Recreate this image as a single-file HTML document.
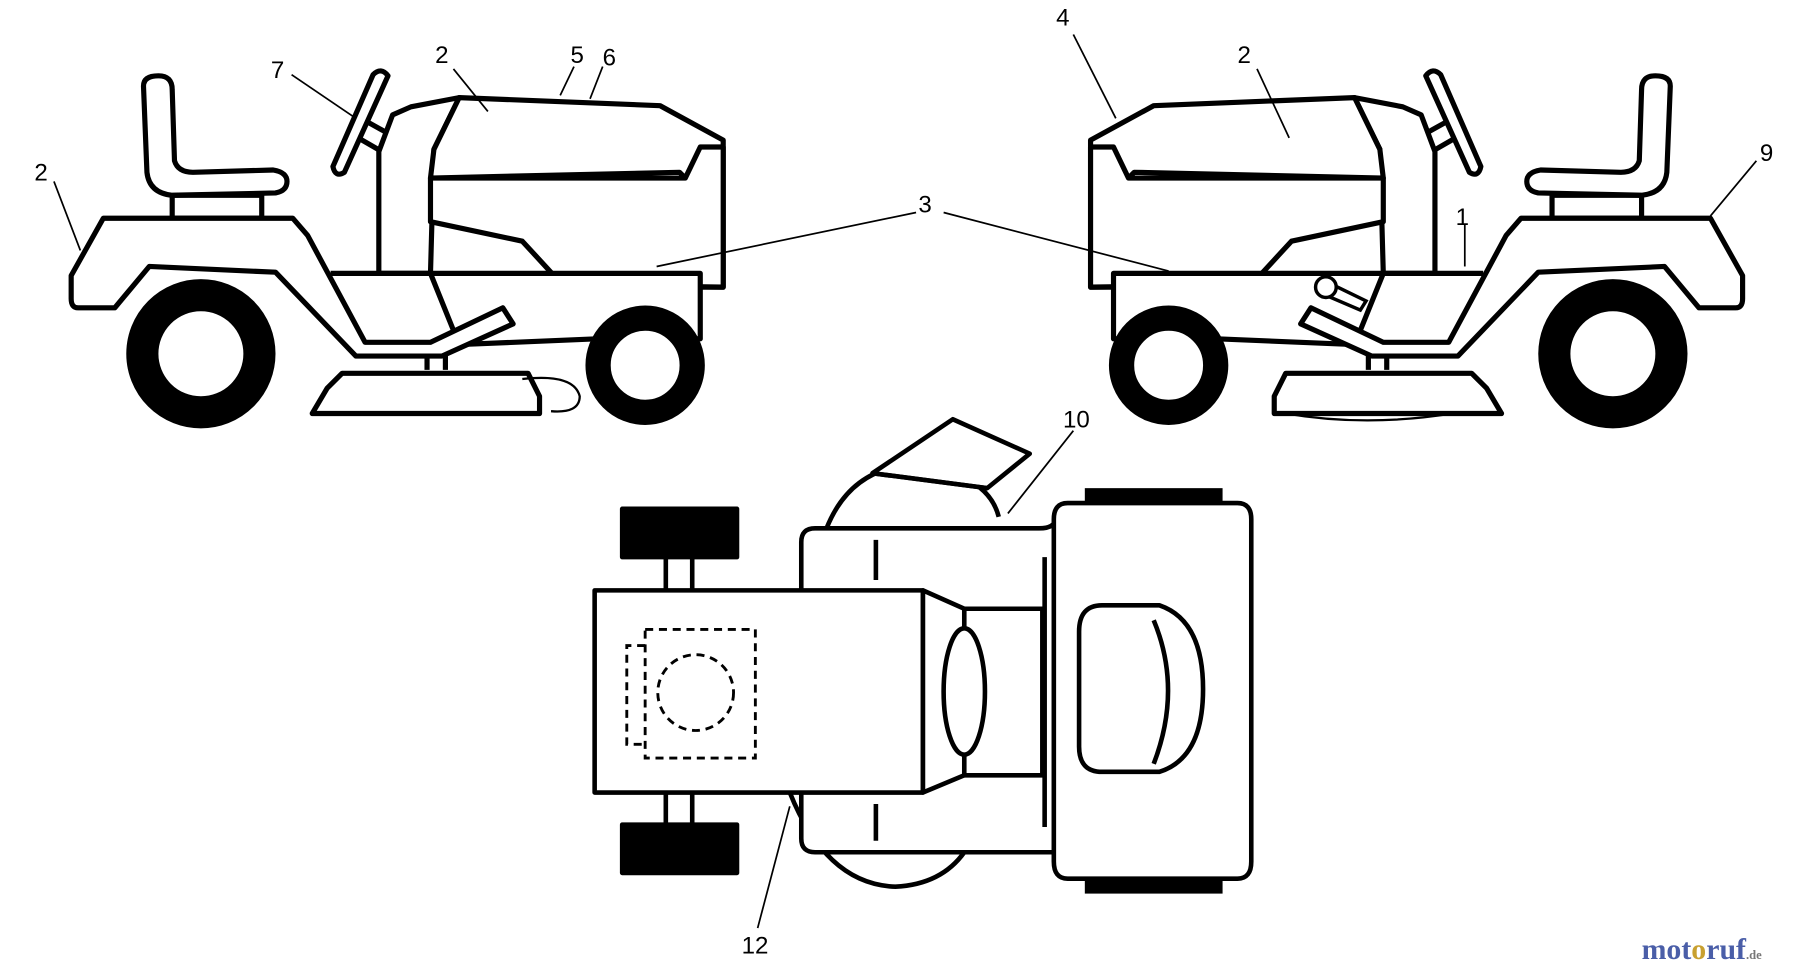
<!DOCTYPE html>
<html><head><meta charset="utf-8"><style>
html,body{margin:0;padding:0;background:#fff;}
svg{display:block}
text{font-family:"Liberation Sans",sans-serif;font-size:21px;fill:#000}
</style></head><body>
<svg width="1800" height="974" viewBox="0 0 1568 848" preserveAspectRatio="none" xmlns="http://www.w3.org/2000/svg">
<defs>
<g id="trac" fill="#fff" stroke="#000" stroke-width="4.5" stroke-linejoin="round">
  <path d="M150,190 V170 H228 V190 Z"/>
  <path d="M125,75 Q125,66 138,66 Q150,66 150,78 L152,140 Q155,150 168,150 L238,148 Q250,150 250,158 Q250,166 240,168 L150,170 Q130,168 128,150 Z"/>
  <path d="M318,105 L345,120 M312,120 L338,135" />
  <path d="M290,145 L325,65 Q332,58 338,66 L300,150 Q292,155 290,145 Z"/>
  <path d="M330,238 V132 L342,100 L358,93 L400,85 L378,130 L375,238 Z"/>
  <path d="M400,85 L575,92 L630,122 L630,250 L610,250 L610,155 L597,155 L592,150 L375,155 L378,130 Z"/>
  <path d="M375,155 L597,155 L610,128 L630,128 L630,250 L490,248 L455,210 L375,193 Z"/>
  <path d="M288,238 H610 V295 H520 L400,300 L375,238"/>
  <circle cx="562" cy="318" r="41" stroke-width="22"/>
  <path d="M62,240 L90,190 L255,190 L268,205 L318,298 L375,298 L438,268 L447,282 L385,310 L310,310 L240,237 L130,232 L100,268 L68,268 Q62,268 62,260 Z"/>
  <circle cx="175" cy="308" r="51" stroke-width="28"/>
  <path d="M372,310 V322 M388,308 V322"/>
  <path d="M285,338 L298,325 L460,325 L470,345 L470,360 L272,360 Z"/>
</g>
</defs>

<use href="#trac"/>
<use href="#trac" transform="translate(1580,0) scale(-1,1)"/>

<path d="M455,330 Q500,325 505,345 Q505,360 480,358" fill="none" stroke="#000" stroke-width="2"/>
<path d="M1155,245 L1190,262 L1185,270 L1150,255 Z" fill="#fff" stroke="#000" stroke-width="3"/>
<circle cx="1155" cy="250" r="9" fill="#fff" stroke="#000" stroke-width="3"/>
<path d="M1120,360 Q1190,372 1265,360" fill="none" stroke="#000" stroke-width="2"/>

<g stroke="#000" stroke-width="1.5" fill="none">
  <path d="M47,158 L70,218"/>
  <path d="M254,65 L310,103"/>
  <path d="M395,60 L425,97"/>
  <path d="M500,58 L488,83"/>
  <path d="M525,58 L514,86"/>
  <path d="M798,185 L572,232"/>
  <path d="M822,185 L1018,236"/>
  <path d="M935,30 L972,103"/>
  <path d="M1095,60 L1123,120"/>
  <path d="M1276,195 L1276,232"/>
  <path d="M1530,140 L1490,188"/>
  <path d="M935,375 L878,447"/>
  <path d="M660,808 L688,702"/>
</g>

<g>
  <text x="30" y="157">2</text>
  <text x="236" y="68">7</text>
  <text x="379" y="55">2</text>
  <text x="497" y="55">5</text>
  <text x="525" y="57">6</text>
  <text x="800" y="185">3</text>
  <text x="920" y="22">4</text>
  <text x="1078" y="55">2</text>
  <text x="1268" y="196">1</text>
  <text x="1533" y="140">9</text>
  <text x="926" y="372">10</text>
  <text x="646" y="830">12</text>
</g>

<g fill="#fff" stroke="#000" stroke-width="4" stroke-linejoin="round">
  <rect x="542" y="443" width="100" height="42" fill="#000"/>
  <rect x="542" y="718" width="100" height="42" fill="#000"/>
  <path d="M580,485 V515 M603,485 V515 M580,690 V718 M603,690 V718"/>
  <path d="M688,690 Q720,770 780,772 Q820,770 840,742" />
  <path d="M720,460 Q740,410 790,405 Q860,410 870,450"/>
  <path d="M760,412 L830,365 L897,395 L860,425 Z"/>
  <path d="M760,412 L860,425"/>
  <path d="M710,460 H905 Q920,460 920,450 V742 H710 Q698,742 698,730 V472 Q698,460 710,460 Z"/>
  <path d="M930,438 H1078 Q1090,438 1090,452 V750 Q1090,765 1078,765 H930 Q918,765 918,750 V452 Q918,438 930,438 Z"/>
  <rect x="945" y="425" width="120" height="13" fill="#000" stroke="none"/>
  <rect x="945" y="765" width="120" height="13" fill="#000" stroke="none"/>
  <path d="M910,485 V720 M763,470 V505 M763,700 V732"/>
  <rect x="518" y="514" width="286" height="176"/>
  <path d="M804,514 L840,530 L840,675 L804,690 Z"/>
  <rect x="840" y="530" width="68" height="145"/>
  <ellipse cx="840" cy="602" rx="18" ry="55"/>
  <path d="M960,527 H1010 Q1048,540 1048,600 Q1048,660 1010,672 H960 Q940,672 940,650 V550 Q940,527 960,527 Z"/>
  <path d="M1005,540 Q1030,600 1005,665" fill="none"/>
</g>
<g fill="none" stroke="#000" stroke-width="2.5" stroke-dasharray="7,5">
  <rect x="562" y="548" width="96" height="112"/>
  <circle cx="606" cy="603" r="33"/>
  <path d="M562,562 H546 V648 H562"/>
</g>

<text x="1430" y="835" style="font-family:'Liberation Serif',serif;font-size:26px;font-weight:bold"><tspan fill="#4a5ea8">mot</tspan><tspan fill="#c8a030">o</tspan><tspan fill="#4a5ea8">ruf</tspan><tspan fill="#777" font-size="11">.de</tspan></text>
</svg>
</body></html>
